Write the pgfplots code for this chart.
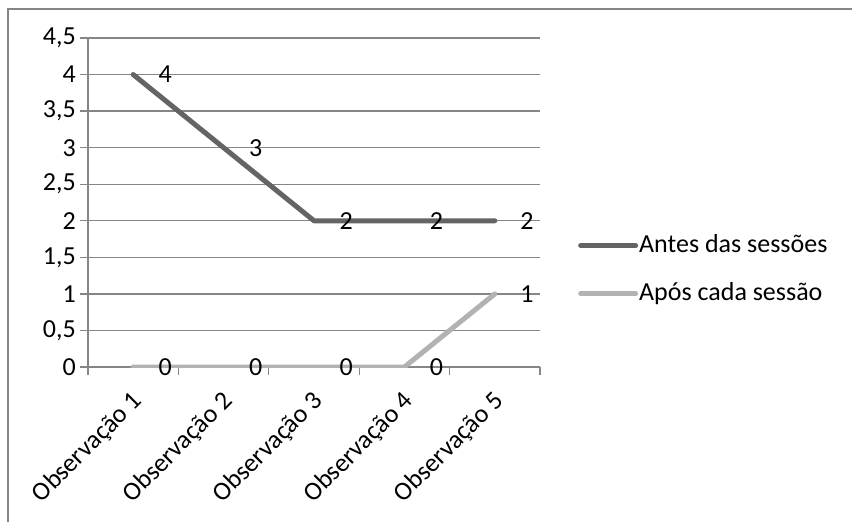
\documentclass[border=0pt]{standalone}
\usepackage{pgfplots}
\pgfplotsset{compat=1.18}
\usepackage{fontspec}
\setmainfont{Carlito}

\definecolor{antes}{RGB}{100,100,100}
\definecolor{apos}{RGB}{178,178,178}
\definecolor{gridc}{RGB}{134,134,134}

\begin{document}
\fontsize{26}{30}\selectfont
\begin{tikzpicture}[x=1pt,y=1pt]
\path[use as bounding box] (0,0) rectangle (852,-522);
\clip (0,0) rectangle (852,-522);
% chart area frame
\draw[gridc, line width=1.5pt] (8,-800) -- (8,-9) -- (1200,-9);
\begin{axis}[
  at={(88pt,-367pt)}, anchor=south west,
  scale only axis, width=452pt, height=329pt,
  xmin=0, xmax=5, ymin=0, ymax=4.5,
  axis x line*=bottom, axis y line*=left,
  axis line style={gridc, line width=1.3pt},
  ytick={0,0.5,1,1.5,2,2.5,3,3.5,4,4.5},
  ymajorgrids, grid style={gridc, line width=1.3pt},
  tick style={gridc, line width=1.3pt},
  tick align=outside, major tick length=8pt,
  /pgf/number format/use comma,
  /pgf/number format/assume math mode=true,
  yticklabel style={anchor=east, xshift=-4pt, inner sep=0pt},
  xtick={0,1,2,3,4,5}, xticklabels={},
  extra x ticks={0.5,1.5,2.5,3.5,4.5},
  extra x tick labels={Observação 1,Observação 2,Observação 3,Observação 4,Observação 5},
  extra x tick style={major tick length=0pt,
    tick label style={xshift=-3pt, yshift=-22pt, rotate=45, anchor=north east, inner sep=0pt}},
  nodes near coords,
  nodes near coords style={anchor=west, xshift=23pt, inner sep=0pt, text=black},
  point meta=explicit symbolic,
  legend image code/.code={\draw[#1] (0pt,0pt) -- (55pt,0pt);},
  legend style={at={(1.084,0.296)}, anchor=west, draw=none, fill=none,
    inner sep=0pt, row sep=24pt, nodes={inner sep=1pt, text=black},
    /tikz/every even column/.append style={column sep=0pt}},
  legend cell align=left,
]
\addplot[antes, line width=5pt, line cap=round, line join=round]
  coordinates {(0.5,4)[4] (1.5,3)[3] (2.5,2)[2] (3.5,2)[2] (4.5,2)[2]};
\addlegendentry{Antes das sessões}
\addplot[apos, line width=5pt, line cap=round, line join=round]
  coordinates {(0.5,0)[0] (1.5,0)[0] (2.5,0)[0] (3.5,0)[0] (4.5,1)[1]};
\addlegendentry{Após cada sessão}
\end{axis}
\end{tikzpicture}
\end{document}
